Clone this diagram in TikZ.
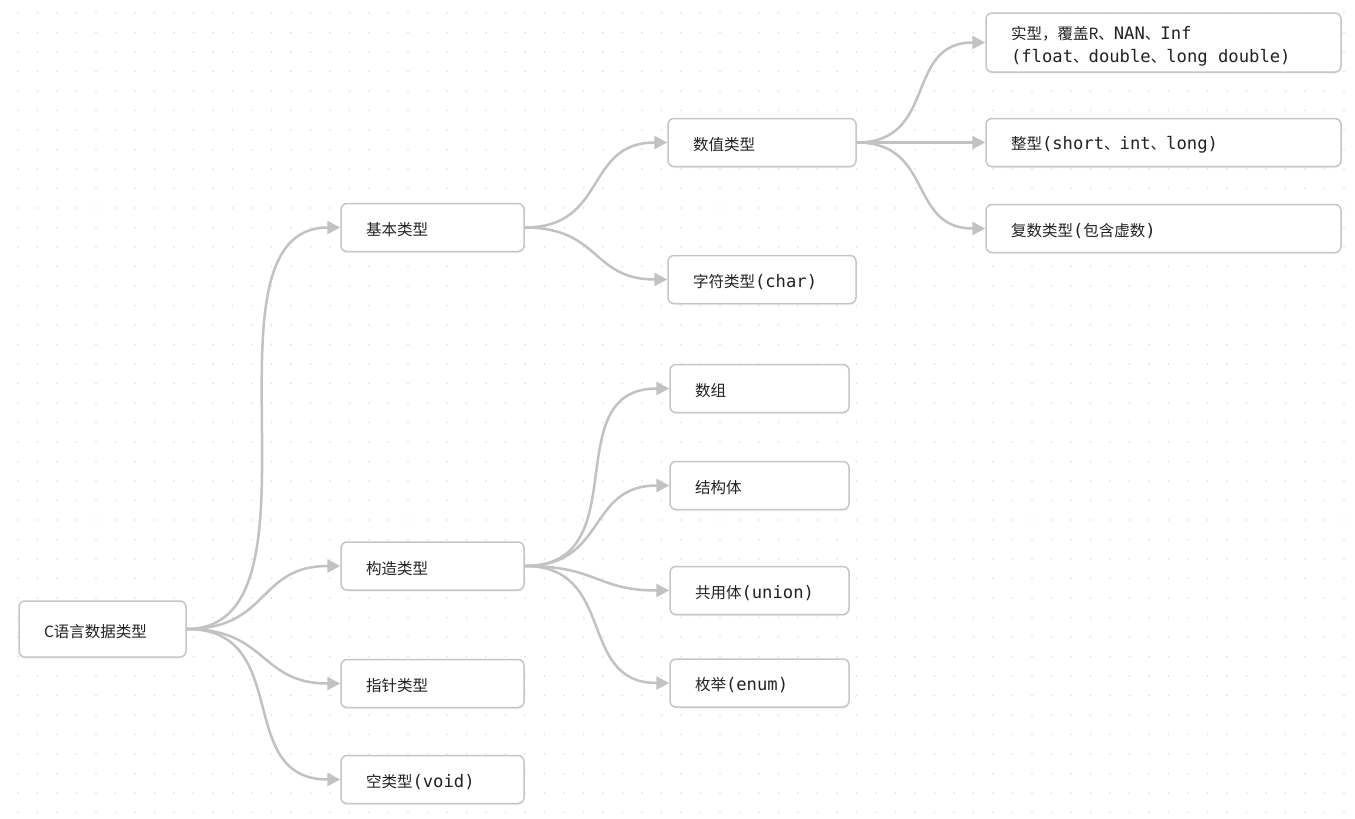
\documentclass[tikz,border=0pt]{standalone}
\usepackage{fontspec}
\setmainfont{Noto Sans CJK SC}
\setmonofont{DejaVu Sans Mono}[Scale=1.11]
\usepackage{tikz}
\usetikzlibrary{arrows.meta, positioning, shadows}
\usepackage{xcolor}
\definecolor{boxgray}{HTML}{C6C6C6}
\definecolor{linkgray}{HTML}{C2C2C2}
\definecolor{dotgray}{HTML}{DDDDDD}
\definecolor{ink}{HTML}{222222}
\tikzset{
  topic/.style={rectangle, rounded corners=6pt, draw=boxgray, line width=1.5pt,
                fill=white, align=left, inner xsep=25pt, inner ysep=0pt,
                minimum height=48pt, text=ink,
                font=\fontsize{15.5pt}{23pt}\selectfont,
                execute at begin node={\rule{0pt}{17.6pt}},
                drop shadow={shadow xshift=0pt, shadow yshift=-1.5pt, opacity=0.10}},
  rootbox/.style={topic, text width=117pt, minimum height=56pt},
  lvone/.style={topic, text width=133pt},
  lvtwo/.style={topic, text width=138pt},
  lvtwob/.style={topic, text width=129pt},
  lvthree/.style={topic, text width=305pt},
  link/.style={-{Triangle[length=13pt, width=13pt]}, line width=2.5pt,
               draw=linkgray, out=0, in=180, looseness=1.28},
}

\begin{document}
\begin{tikzpicture}[x=1pt, y=-1pt]
  \useasboundingbox (0,0) rectangle (1355,819);
  \fill[white] (0,0) rectangle (1355,819);
  % dotted canvas
  \foreach \i in {0,...,68}
    \foreach \j in {0,...,41}
      \fill[dotgray] (18+19.5*\i, 13+19.5*\j) circle (0.9pt);

  % root and first level
  \node [rootbox] (root) at (102.5,629) {C语言数据类型};
  \node [lvone] (basic) at (432.5,227.5) {基本类型};
  \node [lvone] (build) at (432.5,566) {构造类型};
  \node [lvone] (ptr) at (432.5,683.5) {指针类型};
  \node [lvone] (void) at (432.5,779.5) {空类型\texttt{(void)}};

  % second level
  \node [lvtwo] (num) at (762,142.5) {数值类型};
  \node [lvtwo] (chr) at (762,279.5) {字符类型\texttt{(char)}};
  \node [lvtwob] (arr) at (759.5,388.5) {数组};
  \node [lvtwob] (strct) at (759.5,485.5) {结构体};
  \node [lvtwob] (uni) at (759.5,590.5) {共用体\texttt{(union)}};
  \node [lvtwob] (enm) at (759.5,683) {枚举\texttt{(enum)}};

  % third level
  \node [lvthree, minimum height=59pt] (real) at (1163.5,42.5)
    {\rule{0pt}{21.6pt}实型，覆盖R、\texttt{NAN}、\texttt{Inf}\\
     \texttt{(float}、\texttt{double}、\texttt{long\hspace{0.602em}double)}};
  \node [lvthree] (int) at (1163.5,142.5) {整型\texttt{(short}、\texttt{int}、\texttt{long)}};
  \node [lvthree] (cpx) at (1163.5,228.5) {复数类型\texttt{(}包含虚数\texttt{)}};

  \draw [link, looseness=0.9] (root.east) to (basic.west);
  \draw [link] (root.east) to (build.west);
  \draw [link] (root.east) to (ptr.west);
  \draw [link] (root.east) to (void.west);

  \draw [link] (basic.east) to (num.west);
  \draw [link] (basic.east) to (chr.west);

  \draw [link] (build.east) to (arr.west);
  \draw [link] (build.east) to (strct.west);
  \draw [link] (build.east) to (uni.west);
  \draw [link] (build.east) to (enm.west);

  \draw [link] (num.east) to (real.west);
  \draw [link] (num.east) to (int.west);
  \draw [link] (num.east) to (cpx.west);
\end{tikzpicture}
\end{document}
